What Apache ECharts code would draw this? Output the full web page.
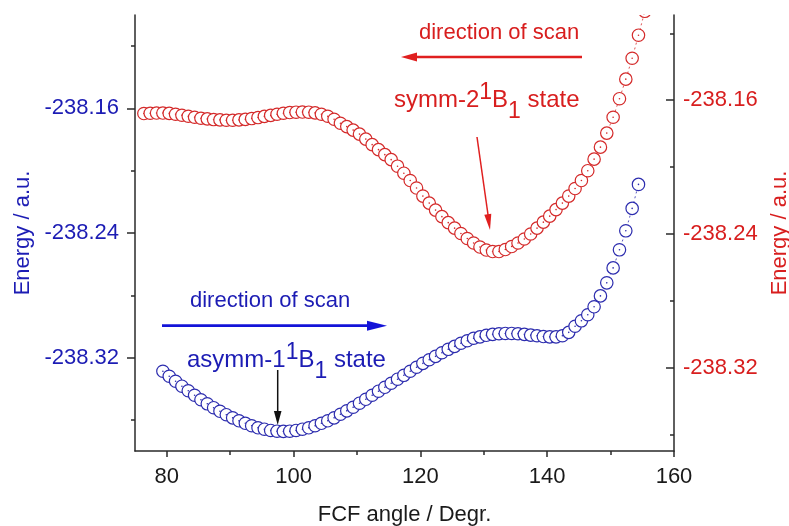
<!DOCTYPE html>
<html>
<head>
<meta charset="utf-8">
<script src="https://cdn.jsdelivr.net/npm/echarts@6/dist/echarts.min.js"></script>
<style>
  html, body { margin: 0; padding: 0; background: #fff; }
  #chart { width: 789px; height: 526px; }
</style>
</head>
<body>
<div id="chart"></div>
<script>
// FCF bending scan: symm-2 1B1 (right axis) and asymm-1 1B1 (left axis)
const symmAngle = [
  76.4, 77.4, 78.4, 79.4, 80.4, 81.4, 82.4, 83.4, 84.4, 85.4,
  86.4, 87.4, 88.4, 89.4, 90.4, 91.4, 92.4, 93.4, 94.4, 95.4,
  96.4, 97.4, 98.4, 99.4, 100.4, 101.4, 102.4, 103.4, 104.4, 105.4,
  106.4, 107.4, 108.4, 109.4, 110.4, 111.4, 112.4, 113.4, 114.4, 115.4,
  116.4, 117.4, 118.4, 119.4, 120.4, 121.4, 122.4, 123.4, 124.4, 125.4,
  126.4, 127.4, 128.4, 129.4, 130.4, 131.4, 132.4, 133.4, 134.4, 135.4,
  136.4, 137.4, 138.4, 139.4, 140.4, 141.4, 142.4, 143.4, 144.4, 145.4,
  146.4, 147.4, 148.4, 149.4, 150.4, 151.4, 152.4, 153.4, 154.4, 155.4
];
const symmEnergy = [
  -238.1680, -238.1678, -238.1677, -238.1677, -238.1679, -238.1684, -238.1690, -238.1696, -238.1702, -238.1708,
  -238.1712, -238.1716, -238.1718, -238.1720, -238.1720, -238.1718, -238.1715, -238.1710, -238.1704, -238.1697,
  -238.1691, -238.1684, -238.1678, -238.1674, -238.1672, -238.1671, -238.1672, -238.1676, -238.1684, -238.1696,
  -238.1714, -238.1738, -238.1758, -238.1779, -238.1803, -238.1833, -238.1866, -238.1896, -238.1926, -238.1956,
  -238.1995, -238.2037, -238.2081, -238.2126, -238.2174, -238.2216, -238.2258, -238.2297, -238.2333, -238.2366,
  -238.2398, -238.2428, -238.2455, -238.2479, -238.2497, -238.2506, -238.2506, -238.2494, -238.2476, -238.2455,
  -238.2431, -238.2401, -238.2366, -238.2330, -238.2294, -238.2255, -238.2216, -238.2174, -238.2129, -238.2081,
  -238.2022, -238.1953, -238.1881, -238.1797, -238.1702, -238.1591, -238.1474, -238.1349, -238.1211, -238.1068
];

const asymmAngle = [
  79.4, 80.4, 81.4, 82.4, 83.4, 84.4, 85.4, 86.4, 87.4, 88.4,
  89.4, 90.4, 91.4, 92.4, 93.4, 94.4, 95.4, 96.4, 97.4, 98.4,
  99.4, 100.4, 101.4, 102.4, 103.4, 104.4, 105.4, 106.4, 107.4, 108.4,
  109.4, 110.4, 111.4, 112.4, 113.4, 114.4, 115.4, 116.4, 117.4, 118.4,
  119.4, 120.4, 121.4, 122.4, 123.4, 124.4, 125.4, 126.4, 127.4, 128.4,
  129.4, 130.4, 131.4, 132.4, 133.4, 134.4, 135.4, 136.4, 137.4, 138.4,
  139.4, 140.4, 141.4, 142.4, 143.4, 144.4, 145.4, 146.4, 147.4, 148.4,
  149.4, 150.4, 151.4, 152.4, 153.4, 154.4
];
const asymmEnergy = [
  -238.3288, -238.3320, -238.3352, -238.3384, -238.3413, -238.3442, -238.3471, -238.3497, -238.3522, -238.3545,
  -238.3567, -238.3587, -238.3606, -238.3622, -238.3638, -238.3651, -238.3660, -238.3668, -238.3673, -238.3674,
  -238.3673, -238.3668, -238.3660, -238.3651, -238.3638, -238.3622, -238.3606, -238.3587, -238.3564, -238.3542,
  -238.3519, -238.3493, -238.3468, -238.3442, -238.3416, -238.3391, -238.3365, -238.3339, -238.3314, -238.3288,
  -238.3262, -238.3237, -238.3214, -238.3192, -238.3169, -238.3147, -238.3128, -238.3108, -238.3092, -238.3076,
  -238.3067, -238.3057, -238.3051, -238.3047, -238.3045, -238.3045, -238.3047, -238.3051, -238.3056, -238.3060,
  -238.3065, -238.3067, -238.3067, -238.3060, -238.3038, -238.2999, -238.2964, -238.2925, -238.2874, -238.2804,
  -238.2720, -238.2624, -238.2508, -238.2386, -238.2242, -238.2088
];

// Axis ticks
const xMajorTicks = [80, 100, 120, 140, 160];
const xMinorTicks = [90, 110, 130, 150];
const yMajorTicks = [-238.32, -238.24, -238.16];
const yMinorTicks = [-238.36, -238.28, -238.20, -238.12];

const FONT = '"Liberation Sans", Arial, sans-serif';
const RED = '#d42a2a';
const RED_TEXT = '#d81e1e';
const BLUE = '#2c2cae';
const BLUE_TEXT = '#1c1cb4';
const BLUE_ARROW = '#1414d8';
const AXIS = '#2a2a2a';

const leftRange = { min: -238.38, max: -238.10 };
const rightRange = { min: -238.37, max: -238.109 };

function pairs(xs, ys) { return xs.map((x, i) => [x, ys[i]]); }

function ringRenderer(color) {
  return function (params, api) {
    const p = api.coord([api.value(0), api.value(1)]);
    return {
      type: 'group',
      children: [
        { type: 'circle', shape: { cx: p[0], cy: p[1], r: 6.2 },
          style: { fill: '#fff', stroke: color, lineWidth: 1.2 } },
        { type: 'circle', shape: { cx: p[0], cy: p[1], r: 0.8 },
          style: { fill: color } }
      ]
    };
  };
}

function yAxisBase(range, side) {
  return {
    type: 'value', position: side, min: range.min, max: range.max,
    splitLine: { show: false }
  };
}

const chart = echarts.init(document.getElementById('chart'), null, { renderer: 'canvas' });

const superSub = {
  base: { fontSize: 24, fontFamily: FONT, lineHeight: 30 },
  sup: { fontSize: 23, fontFamily: FONT, lineHeight: 30, padding: [0, 0, 15, 0] },
  sub: { fontSize: 23, fontFamily: FONT, lineHeight: 30, padding: [22, 0, 0, 0] }
};
function richStyle(color) {
  const r = {};
  Object.keys(superSub).forEach(k => { r[k] = Object.assign({ fill: color }, superSub[k]); });
  return r;
}

chart.setOption({
  animation: false,
  backgroundColor: '#fff',
  grid: { left: 135, right: 115, top: 15, bottom: 75, outerBoundsMode: 'none', containLabel: false },
  xAxis: [
    {
      type: 'value', min: 75, max: 160,
      name: 'FCF angle / Degr.', nameLocation: 'middle', nameGap: 53,
      nameTextStyle: { fontSize: 22, fontFamily: FONT, color: '#1a1a1a' },
      axisLine: { show: true, onZero: false, lineStyle: { color: AXIS, width: 1.5 } },
      axisTick: { show: true, length: 6, customValues: xMajorTicks, lineStyle: { color: AXIS, width: 1.5 } },
      axisLabel: { show: true, customValues: xMajorTicks, fontSize: 22, fontFamily: FONT, color: '#1a1a1a', margin: 15 },
      splitLine: { show: false }
    },
    {
      type: 'value', min: 75, max: 160, position: 'bottom',
      axisLine: { show: false, onZero: false },
      axisTick: { show: true, length: 4, customValues: xMinorTicks, lineStyle: { color: AXIS, width: 1.5 } },
      axisLabel: { show: false },
      splitLine: { show: false }
    }
  ],
  yAxis: [
    Object.assign(yAxisBase(leftRange, 'left'), {
      name: 'Energy / a.u.', nameLocation: 'middle', nameGap: 100, nameRotate: 90,
      nameTextStyle: { fontSize: 22, fontFamily: FONT, color: BLUE_TEXT },
      axisLine: { show: true, onZero: false, lineStyle: { color: AXIS, width: 1.5 } },
      axisTick: { show: true, length: 8, customValues: yMajorTicks, lineStyle: { color: AXIS, width: 1.5 } },
      axisLabel: { show: true, customValues: yMajorTicks, fontSize: 22, fontFamily: FONT, color: BLUE_TEXT, margin: 16,
        formatter: v => v.toFixed(2) }
    }),
    Object.assign(yAxisBase(rightRange, 'right'), {
      name: 'Energy / a.u.', nameLocation: 'middle', nameGap: 94, nameRotate: 90,
      nameTextStyle: { fontSize: 22, fontFamily: FONT, color: RED_TEXT },
      axisLine: { show: true, onZero: false, lineStyle: { color: AXIS, width: 1.5 } },
      axisTick: { show: true, inside: true, length: 8, customValues: yMajorTicks, lineStyle: { color: AXIS, width: 1.5 } },
      axisLabel: { show: true, customValues: yMajorTicks, fontSize: 22, fontFamily: FONT, color: RED_TEXT, margin: 9,
        formatter: v => v.toFixed(2) }
    }),
    Object.assign(yAxisBase(leftRange, 'left'), {
      axisLine: { show: false, onZero: false },
      axisTick: { show: true, length: 4, customValues: yMinorTicks, lineStyle: { color: AXIS, width: 1.5 } },
      axisLabel: { show: false }
    }),
    Object.assign(yAxisBase(rightRange, 'right'), {
      axisLine: { show: false, onZero: false },
      axisTick: { show: true, inside: true, length: 4, customValues: yMinorTicks, lineStyle: { color: AXIS, width: 1.5 } },
      axisLabel: { show: false }
    })
  ],
  series: [
    {
      type: 'line', yAxisIndex: 1, data: pairs(symmAngle, symmEnergy),
      showSymbol: false, silent: true, clip: true,
      lineStyle: { color: RED, width: 0.8, type: [2, 3] }, z: 1
    },
    {
      type: 'custom', yAxisIndex: 1, data: pairs(symmAngle, symmEnergy),
      renderItem: ringRenderer(RED), clip: true, silent: true, z: 2
    },
    {
      type: 'line', yAxisIndex: 0, data: pairs(asymmAngle, asymmEnergy),
      showSymbol: false, silent: true, clip: true,
      lineStyle: { color: BLUE, width: 0.8, type: [2, 3] }, z: 1
    },
    {
      type: 'custom', yAxisIndex: 0, data: pairs(asymmAngle, asymmEnergy),
      renderItem: ringRenderer(BLUE), clip: true, silent: true, z: 2
    }
  ],
  graphic: [
    // scan direction, upper state (right to left)
    { type: 'line', shape: { x1: 582, y1: 57, x2: 414, y2: 57 }, style: { stroke: '#e01f1f', lineWidth: 2.7 }, z: 10 },
    { type: 'polygon', shape: { points: [[401, 57], [417, 52.5], [417, 61.5]] }, style: { fill: '#e01f1f' }, z: 10 },
    { type: 'text', x: 419, y: 33, z: 10,
      style: { text: 'direction of scan', fill: RED_TEXT, font: '22px ' + FONT, textVerticalAlign: 'middle' } },
    { type: 'text', x: 394, y: 100.5, z: 10,
      style: { text: '{base|symm-2}{sup|1}{base|B}{sub|1}{base| state}', rich: richStyle(RED_TEXT),
        textVerticalAlign: 'middle' } },
    { type: 'line', shape: { x1: 477, y1: 137, x2: 488.2, y2: 216 }, style: { stroke: '#e01f1f', lineWidth: 1.5 }, z: 10 },
    { type: 'polygon', shape: { points: [[490, 230], [491.3, 213.7], [484.3, 214.7]] }, style: { fill: '#e01f1f' }, z: 10 },

    // scan direction, lower state (left to right)
    { type: 'line', shape: { x1: 162, y1: 325.7, x2: 370, y2: 325.7 }, style: { stroke: BLUE_ARROW, lineWidth: 2.7 }, z: 10 },
    { type: 'polygon', shape: { points: [[387, 325.7], [367, 320.7], [367, 330.7]] }, style: { fill: BLUE_ARROW }, z: 10 },
    { type: 'text', x: 190, y: 301, z: 10,
      style: { text: 'direction of scan', fill: BLUE_TEXT, font: '22px ' + FONT, textVerticalAlign: 'middle' } },
    { type: 'text', x: 187, y: 360.4, z: 10,
      style: { text: '{base|asymm-1}{sup|1}{base|B}{sub|1}{base| state}', rich: richStyle(BLUE_TEXT),
        textVerticalAlign: 'middle' } },
    { type: 'line', shape: { x1: 277.7, y1: 370, x2: 277.7, y2: 413 }, style: { stroke: '#111', lineWidth: 1.5 }, z: 10 },
    { type: 'polygon', shape: { points: [[277.7, 425], [273.9, 411], [281.5, 411]] }, style: { fill: '#111' }, z: 10 }
  ]
});
</script>
</body>
</html>
